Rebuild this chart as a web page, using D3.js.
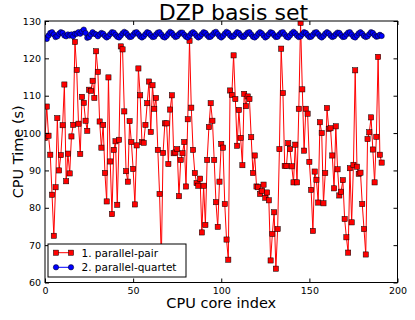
<!DOCTYPE html>
<html>
<head>
<meta charset="utf-8">
<script src="https://cdn.jsdelivr.net/npm/d3@7"></script>
<style>
  body { margin: 0; background: #fff; }
  svg { display: block; font-family: "DejaVu Sans", sans-serif; }
</style>
</head>
<body>
<div id="chart"></div>
<script>
'use strict';
// CPU time per core
var pairTime = [
  98.7, 107.1, 99.3, 94.2, 83.5, 72.5, 85.5, 104.0, 90.0, 94.1,
  102.1, 113.0, 87.1, 94.5, 89.2, 99.1, 102.2, 124.4, 116.9, 102.5,
  94.4, 109.7, 108.1, 103.3, 100.6, 111.6, 111.3, 114.0, 109.4, 121.9,
  116.4, 103.1, 96.1, 102.2, 89.3, 81.7, 114.9, 92.4, 78.3, 95.5,
  97.8, 80.8, 98.2, 123.2, 122.4, 105.8, 89.8, 87.0, 103.2, 97.6,
  90.4, 80.9, 96.7, 117.3, 110.1, 97.6, 97.4, 102.2, 108.0, 113.8,
  100.3, 112.8, 106.5, 109.4, 95.5, 83.7, 66.0, 94.7, 102.6, 102.6,
  91.7, 106.3, 110.1, 94.6, 94.8, 95.7, 83.1, 92.8, 94.6, 97.6,
  85.7, 103.7, 124.7, 106.8, 95.5, 89.3, 86.6, 85.9, 87.8, 73.4,
  85.9, 75.4, 92.8, 101.6, 108.0, 103.3, 92.8, 81.5, 74.9, 87.0,
  97.1, 96.1, 81.0, 71.5, 66.1, 111.4, 110.2, 120.8, 109.1, 96.6,
  106.2, 98.7, 91.4, 110.5, 107.2, 109.8, 109.1, 98.9, 89.3, 94.0,
  85.7, 85.5, 83.7, 84.5, 86.2, 82.7, 84.1, 82.0, 65.9, 73.0,
  78.8, 63.7, 74.3, 95.7, 122.6, 110.7, 91.2, 91.2, 97.3, 95.7,
  91.1, 86.8, 96.9, 86.8, 106.5, 129.5, 111.7, 95.3, 106.5, 105.2,
  92.3, 84.8, 73.8, 89.7, 87.5, 81.4, 102.9, 100.0, 81.2, 89.3,
  106.7, 101.1, 101.3, 94.0, 85.2, 101.8, 90.3, 83.3, 84.3, 87.4,
  77.0, 72.1, 68.0, 90.6, 76.1, 91.5, 116.8, 91.0, 89.1, 89.4,
  81.0, 74.3, 67.5, 98.4, 100.2, 104.2, 95.6, 86.8, 99.0, 120.4,
  94.2, 92.1
];
var quartetTime = [
  125.5, 125.2, 126.1, 126.8, 127.0, 126.4, 125.7, 125.9, 126.6, 127.0,
  126.8, 126.1, 125.9, 126.4, 126.1, 126.4, 125.9, 126.6, 126.6, 127.0,
  126.6, 127.2, 127.7, 126.8, 125.5, 125.7, 126.4, 127.0, 126.6, 126.4,
  125.9, 126.4, 126.8, 126.6, 126.0, 125.6, 125.9, 126.5, 127.0, 126.9,
  126.3, 125.8, 125.6, 126.1, 126.7, 127.1, 126.8, 126.2, 125.7, 125.8,
  126.3, 126.9, 127.0, 126.5, 125.9, 125.6, 125.9, 126.5, 127.0, 126.8,
  126.2, 125.7, 125.8, 126.4, 126.9, 127.0, 126.4, 125.8, 125.6, 126.0,
  126.6, 127.1, 126.8, 126.2, 125.7, 125.9, 126.5, 126.9, 126.9, 126.3,
  125.8, 125.6, 126.1, 126.7, 127.0, 126.6, 126.0, 125.6, 125.9, 126.5,
  127.0, 126.8, 126.2, 125.7, 125.8, 126.3, 126.9, 127.1, 126.5, 125.9,
  125.6, 126.0, 126.6, 127.1, 126.8, 126.1, 125.7, 125.9, 126.5, 127.0,
  126.8, 126.2, 125.7, 125.8, 126.4, 126.9, 127.0, 126.4, 125.8, 125.6,
  126.0, 126.6, 127.0, 126.7, 126.1, 125.6, 125.9, 126.5, 127.0, 126.8,
  126.2, 125.7, 125.8, 126.4, 126.9, 127.0, 126.4, 125.8, 125.6, 126.1,
  126.7, 127.1, 126.7, 126.1, 125.7, 125.9, 126.5, 127.0, 126.8, 126.2,
  125.7, 125.8, 126.3, 126.9, 127.0, 126.5, 125.9, 125.6, 126.0, 126.6,
  127.0, 126.7, 126.1, 125.7, 125.9, 126.5, 126.9, 126.8, 126.2, 125.7,
  125.8, 126.4, 126.9, 127.0, 126.4, 125.8, 125.6, 126.1, 126.7, 127.0,
  126.6, 126.0, 125.7, 125.9, 126.5, 127.0, 126.8, 126.2, 125.8, 125.9,
  126.3, 126.0
];
var seriesNames = ['1. parallel-pair', '2. parallel-quartet'];
var xTicks = [0, 50, 100, 150, 200];
var yTicks = [60, 70, 80, 90, 100, 110, 120, 130];

var width = 415, height = 320,
    plotLeft = 45, plotRight = 397.5, plotTop = 21, plotBottom = 282.5;

var svg = d3.select('#chart').append('svg')
    .attr('width', width)
    .attr('height', height);

var x = d3.scaleLinear().domain([0, 200]).range([plotLeft, plotRight]),
    y = d3.scaleLinear().domain([60, 130]).range([plotBottom, plotTop]);

svg.append('clipPath').attr('id', 'plotclip')
    .append('rect')
    .attr('x', plotLeft).attr('y', plotTop)
    .attr('width', plotRight - plotLeft).attr('height', plotBottom - plotTop);

var plot = svg.append('g').attr('clip-path', 'url(#plotclip)');

function drawSeries(values, colour, shape) {
    var pts = values.map(function (v, i) { return [i, v]; });
    var line = d3.line()
        .x(function (d) { return x(d[0]); })
        .y(function (d) { return y(d[1]); });
    plot.append('path')
        .datum(pts)
        .attr('d', line)
        .attr('fill', 'none')
        .attr('stroke', colour)
        .attr('stroke-width', 1);
    if (shape === 'square') {
        plot.selectAll(null).data(pts).enter().append('rect')
            .attr('x', function (d) { return x(d[0]) - 2.6; })
            .attr('y', function (d) { return y(d[1]) - 2.6; })
            .attr('width', 5.2).attr('height', 5.2)
            .attr('fill', colour)
            .attr('stroke', '#000').attr('stroke-width', 0.5);
    } else {
        plot.selectAll(null).data(pts).enter().append('circle')
            .attr('cx', function (d) { return x(d[0]); })
            .attr('cy', function (d) { return y(d[1]); })
            .attr('r', 2.7)
            .attr('fill', colour)
            .attr('stroke', '#000').attr('stroke-width', 0.5);
    }
}

drawSeries(pairTime, '#ff0000', 'square');
drawSeries(quartetTime, '#0000ff', 'circle');

// axes, matplotlib classic look: ticks inside on all four sides
var tickLen = 4;
svg.append('g')
    .attr('transform', 'translate(0,' + plotBottom + ')')
    .call(d3.axisBottom(x).tickValues(xTicks).tickSizeInner(-tickLen).tickSizeOuter(0).tickPadding(5))
    .call(function (g) { g.select('.domain').remove(); });
svg.append('g')
    .attr('transform', 'translate(0,' + plotTop + ')')
    .call(d3.axisTop(x).tickValues(xTicks).tickSizeInner(-tickLen).tickSizeOuter(0).tickFormat(''))
    .call(function (g) { g.select('.domain').remove(); });
svg.append('g')
    .attr('transform', 'translate(' + plotLeft + ',0)')
    .call(d3.axisLeft(y).tickValues(yTicks).tickSizeInner(-tickLen).tickSizeOuter(0).tickPadding(4))
    .call(function (g) { g.select('.domain').remove(); });
svg.append('g')
    .attr('transform', 'translate(' + plotRight + ',0)')
    .call(d3.axisRight(y).tickValues(yTicks).tickSizeInner(-tickLen).tickSizeOuter(0).tickFormat(''))
    .call(function (g) { g.select('.domain').remove(); });

svg.selectAll('.tick text')
    .attr('font-family', '"DejaVu Sans", sans-serif')
    .attr('font-size', 9.5)
    .attr('fill', '#000');
svg.selectAll('.tick line').attr('stroke', '#000');

svg.append('rect')
    .attr('x', plotLeft).attr('y', plotTop)
    .attr('width', plotRight - plotLeft).attr('height', plotBottom - plotTop)
    .attr('fill', 'none').attr('stroke', '#000').attr('stroke-width', 1);

// labels
svg.append('text')
    .attr('x', 233.5).attr('y', 19.5)
    .attr('text-anchor', 'middle')
    .attr('font-size', 22)
    .text('DZP basis set');
svg.append('text')
    .attr('x', (plotLeft + plotRight) / 2).attr('y', 308)
    .attr('text-anchor', 'middle')
    .attr('font-size', 14.5)
    .text('CPU core index');
svg.append('text')
    .attr('transform', 'translate(23,' + ((plotTop + plotBottom) / 2) + ') rotate(-90)')
    .attr('text-anchor', 'middle')
    .attr('font-size', 14.5)
    .text('CPU Time (s)');

// legend
var legend = svg.append('g');
legend.append('rect')
    .attr('x', 48).attr('y', 244)
    .attr('width', 138).attr('height', 33)
    .attr('fill', '#fff').attr('stroke', '#000').attr('stroke-width', 1);
var legendStyle = [
    { colour: '#ff0000', shape: 'square' },
    { colour: '#0000ff', shape: 'circle' }
];
seriesNames.forEach(function (name, k) {
    var cy = 252.7 + k * 14.6,
        row = legend.append('g');
    row.append('line')
        .attr('x1', 56).attr('x2', 71)
        .attr('y1', cy).attr('y2', cy)
        .attr('stroke', legendStyle[k].colour).attr('stroke-width', 1);
    [56, 71].forEach(function (mx) {
        if (legendStyle[k].shape === 'square') {
            row.append('rect')
                .attr('x', mx - 2.6).attr('y', cy - 2.6)
                .attr('width', 5.2).attr('height', 5.2)
                .attr('fill', legendStyle[k].colour)
                .attr('stroke', '#000').attr('stroke-width', 0.5);
        } else {
            row.append('circle')
                .attr('cx', mx).attr('cy', cy).attr('r', 2.7)
                .attr('fill', legendStyle[k].colour)
                .attr('stroke', '#000').attr('stroke-width', 0.5);
        }
    });
    row.append('text')
        .attr('x', 81.5).attr('y', cy + 3.8)
        .attr('font-size', 10.5)
        .text(name);
});
</script>
</body>
</html>
